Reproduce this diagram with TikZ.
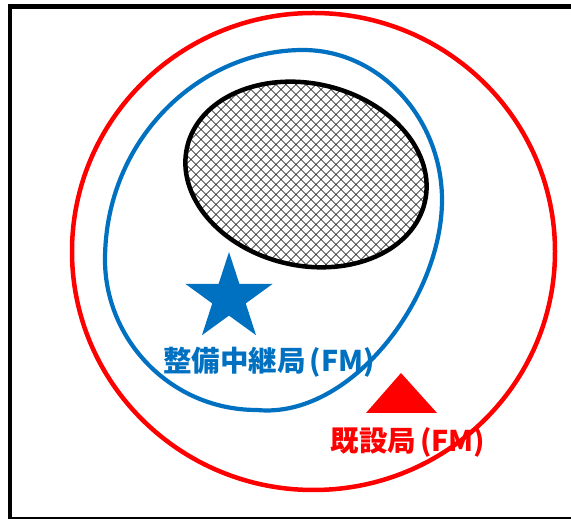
\documentclass[tikz,border=0pt]{standalone}
\usepackage{fontspec}
\newfontfamily\cjk{Noto Sans CJK JP}
\definecolor{bl}{HTML}{0070C0}
\definecolor{rd}{HTML}{FF0000}
\tikzset{
  frameline/.style={line width=4.5pt, black},
  redring/.style={line width=4.5pt, rd},
  bluering/.style={line width=4.2pt, bl},
  blackring/.style={line width=4.5pt, black},
  hatchline/.style={line width=0.55pt, black},
  lbl/.style={font=\cjk\bfseries\fontsize{28.5}{31}\selectfont, inner sep=0pt}
}
\begin{document}
\begin{tikzpicture}[x=1pt,y=1pt]
\useasboundingbox (0,0) rectangle (571,519);
\begin{scope}
  \clip (0,0) rectangle (571,519);
  \draw[frameline] (10,512.5) rectangle (600,-0.5);
\end{scope}
% hatched ellipse
\coordinate (ec) at (306,344.5);
\begin{scope}
  \clip[rotate around={-13:(ec)}] (ec) ellipse [x radius=122, y radius=91];
  \foreach \k in {-60,...,60} {
    \draw[hatchline] ({306+10*\k-150},194.5) -- ({306+10*\k+150},494.5);
    \draw[hatchline] ({306+10*\k-150},494.5) -- ({306+10*\k+150},194.5);
  }
\end{scope}
\draw[blackring, rotate around={-13:(ec)}] (ec) ellipse [x radius=122, y radius=91];
% red circle
\draw[redring] (313.5,267.5) ellipse [x radius=241.5, y radius=238.5];
% blue coverage
\coordinate (bt) at (303,469);
\coordinate (br) at (442,319);
\coordinate (bb) at (257,109);
\coordinate (bll) at (105,259);
\draw[bluering] (bt) .. controls (380,469) and (442,400) .. (br)
  .. controls (442,220) and (350,100) .. (bb)
  .. controls (170,109) and (105,180) .. (bll)
  .. controls (105,380) and (200,469) .. (bt) -- cycle;
% star
\coordinate (sc) at (229,221);
\fill[bl, shift={(sc)}] (90:46) -- (126:17.6) -- (162:46) -- (198:17.6) -- (234:46)
  -- (270:17.6) -- (306:46) -- (342:17.6) -- (18:46) -- (54:17.6) -- cycle;
% triangle
\fill[rd] (401,146) -- (366,106) -- (437,106) -- cycle;
% labels
\node[lbl, text=bl] (newst) at (269,157) {整備中継局\hspace{4pt}(FM)};
\node[lbl, text=rd] (oldst) at (408,77) {既設局\hspace{4pt}(FM)};
\end{tikzpicture}
\end{document}
